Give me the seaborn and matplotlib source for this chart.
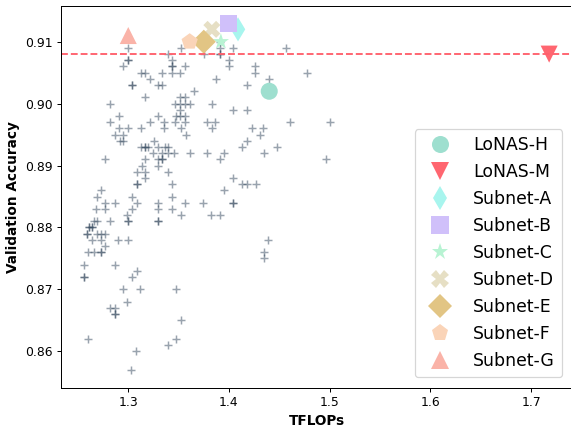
import pandas as pd
import seaborn as sns
import matplotlib.pyplot as plt

# searched subnets: accuracy levels and the TFLOPs of every point on that level
acc_levels = [0.910, 0.909, 0.908, 0.907, 0.906, 0.905, 0.904, 0.903, 0.902, 0.901,
              0.900, 0.899, 0.898, 0.897, 0.896, 0.895, 0.894, 0.893, 0.892, 0.891,
              0.890, 0.889, 0.888, 0.887, 0.886, 0.885, 0.884, 0.883, 0.882, 0.881,
              0.880, 0.879, 0.878, 0.877, 0.876, 0.875, 0.874, 0.873, 0.872, 0.870,
              0.868, 0.867, 0.866, 0.865, 0.862, 0.861, 0.860, 0.857]
tflops_at_level = [
    [1.391],
    [1.300, 1.352, 1.391, 1.404, 1.457],
    [1.339, 1.375, 1.391, 1.391],
    [1.300, 1.300, 1.343, 1.400],
    [1.295, 1.343, 1.343, 1.356, 1.400, 1.426],
    [1.313, 1.317, 1.334, 1.343, 1.351, 1.426, 1.478],
    [1.322, 1.387, 1.440],
    [1.304, 1.304, 1.330, 1.334, 1.418],
    [1.365],
    [1.317, 1.351, 1.356],
    [1.282, 1.346, 1.351, 1.356, 1.361, 1.383],
    [1.351, 1.404, 1.418],
    [1.291, 1.330, 1.347, 1.351, 1.356],
    [1.282, 1.322, 1.335, 1.346, 1.356, 1.378, 1.386, 1.461, 1.500],
    [1.291, 1.300, 1.313, 1.335, 1.352, 1.383, 1.423, 1.434],
    [1.287, 1.295, 1.357, 1.431],
    [1.292, 1.295, 1.326, 1.418],
    [1.313, 1.317, 1.317, 1.320, 1.330, 1.336, 1.339, 1.413, 1.448],
    [1.325, 1.334, 1.339, 1.345, 1.361, 1.378, 1.395, 1.435],
    [1.277, 1.317, 1.330, 1.334, 1.334, 1.391, 1.496],
    [1.314, 1.330],
    [1.309, 1.317, 1.339],
    [1.317, 1.404],
    [1.309, 1.309, 1.343, 1.413, 1.418, 1.427],
    [1.273, 1.395],
    [1.269, 1.304, 1.343],
    [1.277, 1.287, 1.309, 1.330, 1.356, 1.374, 1.404, 1.404],
    [1.268, 1.277, 1.304, 1.330, 1.343],
    [1.299, 1.352, 1.382, 1.391],
    [1.266, 1.269, 1.282, 1.300, 1.300, 1.330, 1.330],
    [1.261, 1.261, 1.264, 1.264],
    [1.259, 1.259, 1.269, 1.273, 1.277],
    [1.264, 1.273, 1.290, 1.300, 1.439],
    [1.277],
    [1.260, 1.266, 1.273, 1.273, 1.435],
    [1.435],
    [1.256, 1.287],
    [1.309],
    [1.256, 1.256, 1.304],
    [1.295, 1.312, 1.347],
    [1.299],
    [1.282, 1.287],
    [1.287, 1.287],
    [1.352],
    [1.260, 1.347],
    [1.339],
    [1.308],
    [1.303],
]

models = ['LoNAS-H', 'LoNAS-M', 'Subnet-A', 'Subnet-B', 'Subnet-C',
          'Subnet-D', 'Subnet-E', 'Subnet-F', 'Subnet-G']
model_tflops = [1.440, 1.718, 1.409, 1.400, 1.392, 1.383, 1.375, 1.361, 1.300]
model_acc = [0.902, 0.908, 0.912, 0.913, 0.910, 0.912, 0.910, 0.910, 0.911]
model_colors = ['#9edfcf', '#ff6670', '#a8f5ee', '#d0c0fa', '#b8f3d3',
                '#e6dfc4', '#e2c584', '#fad4b8', '#fab3a8']
model_markers = ['o', 'v', 'd', 's', '*', 'X', 'D', 'p', '^']

cand = pd.DataFrame({
    'TFLOPs': [t for row in tflops_at_level for t in row],
    'acc': [a for a, row in zip(acc_levels, tflops_at_level) for _ in row],
})
mdf = pd.DataFrame({'name': models, 'TFLOPs': model_tflops, 'acc': model_acc})

fig = plt.figure(figsize=(571 / 89, 427 / 89), dpi=89)
ax = fig.add_axes([61 / 571, 1 - 387.7 / 427, 511.4 / 571, 381.7 / 427])

sns.scatterplot(data=cand, x='TFLOPs', y='acc', marker='+', color='#34495e',
                alpha=0.5, s=45, linewidth=1.2, legend=False, ax=ax)
ax.axhline(model_acc[1], color='#ff5f6b', linestyle='--', linewidth=1.5)
sns.scatterplot(data=mdf, x='TFLOPs', y='acc', hue='name', style='name',
                palette=dict(zip(models, model_colors)),
                markers=dict(zip(models, model_markers)),
                s=190, linewidth=0, ax=ax)
sns.move_legend(ax, 'lower right', title=None, fontsize=14,
                labelspacing=0.52, handlelength=2.1, handletextpad=0.9,
                borderaxespad=0.6)

ax.set_xlim(1.2332, 1.7411)
ax.set_ylim(0.85412, 0.91577)
ax.set_xticks([1.3, 1.4, 1.5, 1.6, 1.7])
ax.set_yticks([0.86, 0.87, 0.88, 0.89, 0.90, 0.91])
ax.set_xlabel('TFLOPs', fontsize=11, fontweight='bold')
ax.set_ylabel('Validation Accuracy', fontsize=11, fontweight='bold')

fig.savefig('out.png', dpi=89)
